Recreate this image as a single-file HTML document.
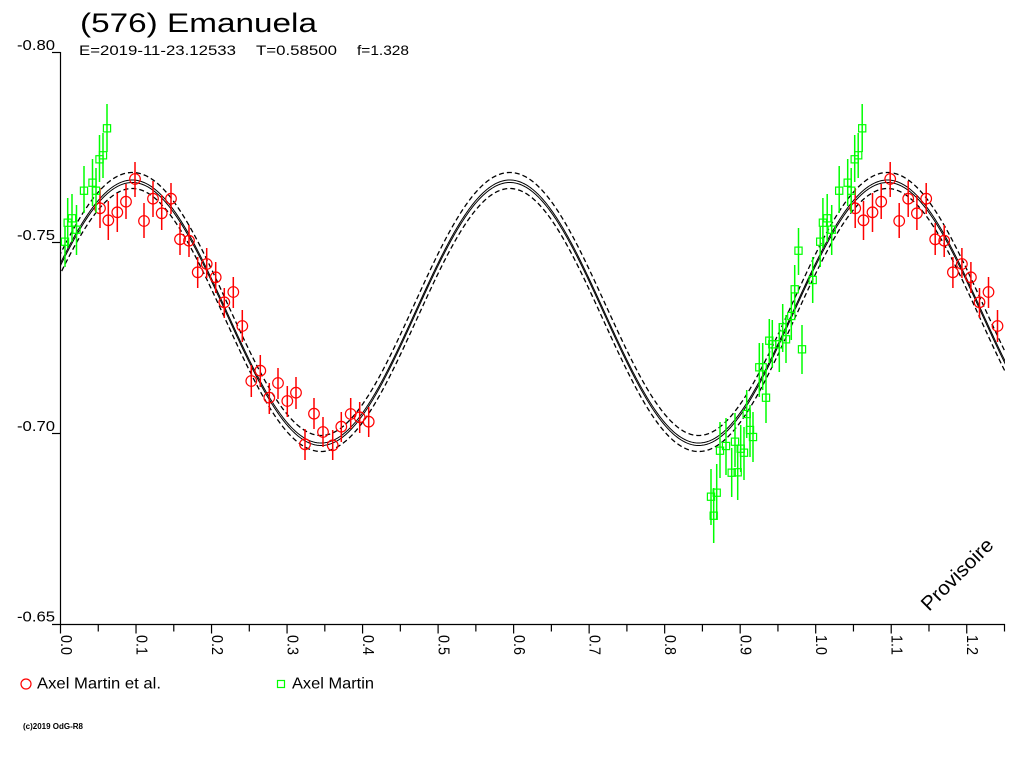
<!DOCTYPE html>
<html><head><meta charset="utf-8"><style>
html,body{margin:0;padding:0;background:#fff;}
svg{display:block;}
text{font-family:"Liberation Sans",Arial,sans-serif;fill:#000;}
</style></head><body>
<svg id="s" width="1024" height="768" viewBox="0 0 1024 768" xmlns="http://www.w3.org/2000/svg">
<rect width="1024" height="768" fill="#fff"/>
<defs><clipPath id="pc"><rect x="61" y="40" width="944" height="584"/></clipPath></defs>
<text x="80" y="32" font-size="27" textLength="237" lengthAdjust="spacingAndGlyphs">(576) Emanuela</text>
<text x="79" y="55" font-size="14" textLength="157" lengthAdjust="spacingAndGlyphs">E=2019-11-23.12533</text>
<text x="256" y="55" font-size="14" textLength="81" lengthAdjust="spacingAndGlyphs">T=0.58500</text>
<text x="357" y="55" font-size="14" textLength="52" lengthAdjust="spacingAndGlyphs">f=1.328</text>
<text x="17" y="50" font-size="15" textLength="38" lengthAdjust="spacingAndGlyphs">-0.80</text>
<text x="17" y="240" font-size="15" textLength="38" lengthAdjust="spacingAndGlyphs">-0.75</text>
<text x="17" y="431" font-size="15" textLength="38" lengthAdjust="spacingAndGlyphs">-0.70</text>
<text x="17" y="621.5" font-size="15" textLength="38" lengthAdjust="spacingAndGlyphs">-0.65</text>
<g id="axes" stroke="#000" stroke-width="1.2" fill="none">
<line x1="60.5" y1="52" x2="60.5" y2="624.5"/>
<line x1="52" y1="624.5" x2="1005" y2="624.5"/>
<line x1="52" y1="52.5" x2="60.5" y2="52.5"/>
<line x1="52" y1="242.5" x2="60.5" y2="242.5"/>
<line x1="52" y1="433.5" x2="60.5" y2="433.5"/>
</g>
<g id="xt"></g>
<g id="curves" clip-path="url(#pc)"></g>
<g id="data"></g>
<text transform="translate(929,612) rotate(-45)" font-size="20" textLength="93" lengthAdjust="spacingAndGlyphs">Provisoire</text>
<circle cx="26" cy="684" r="5" fill="none" stroke="#ff0000" stroke-width="1.2"/>
<text x="37" y="688.5" font-size="16" textLength="124" lengthAdjust="spacingAndGlyphs">Axel Martin et al.</text>
<rect x="277.5" y="680.5" width="7" height="7" fill="none" stroke="#00ff00" stroke-width="1.2"/>
<text x="292" y="688.5" font-size="16" textLength="82" lengthAdjust="spacingAndGlyphs">Axel Martin</text>
<text x="23" y="729" font-size="8" font-weight="bold" textLength="60" lengthAdjust="spacingAndGlyphs">(c)2019 OdG-R8</text>
</svg>
<script>
(function(){
var NS="http://www.w3.org/2000/svg";
function el(t,a,p){var e=document.createElementNS(NS,t);for(var k in a)e.setAttribute(k,a[k]);p.appendChild(e);return e;}
var X0=60.5,SX=755.2;
var xt=document.getElementById('xt');
for(var i=0;i<=25;i++){
  var x=X0+i*0.05*SX;
  var major=(i%2==0);
  el('line',{x1:x,y1:624,x2:x,y2:major?633.5:631.5,stroke:'#000','stroke-width':1.2},xt);
  if(major){
    var t=el('text',{transform:'translate('+(x+0.5)+',635) rotate(90)','font-size':16,textLength:20,lengthAdjust:'spacingAndGlyphs'},xt);
    t.textContent=(i/20).toFixed(1);
  }
}
function f(phi){return 311.5-131.5*Math.cos(4*Math.PI*(phi-0.095));}
function df(phi){return 131.5*4*Math.PI*Math.sin(4*Math.PI*(phi-0.095));}
var cg=document.getElementById('curves');
function curve(v,d,dash,w){
  var pts=[];
  for(var x=50;x<=1015;x+=1){
    var phi=(x-X0)/SX;
    var y=f(phi)+v;var m=df(phi)/SX;var n=Math.sqrt(1+m*m);
    pts.push((x-m*d/n).toFixed(2)+','+(y+d/n).toFixed(2));
  }
  var a={points:pts.join(' '),fill:'none',stroke:'#000','stroke-width':w};
  if(dash)a['stroke-dasharray']=dash;
  el('polyline',a,cg);
}
curve(-6,-1.5,'5 3',1.3);
curve(0,0,null,1);
curve(2.5,0,null,1);
curve(7,1.5,'5 3',1.3);
var dg=document.getElementById('data');
var red=[[100,208.3,188,228],[108.3,220.3,201,240],[117.3,212.3,193,232],[126,201.7,184,219],[135,179,162,197],[144,221,203,238],[153,198.7,181,217],[161.7,213.3,195,230],[171,198.7,183,214],[180,239.3,223,255],[189,240.7,225,257],[197.7,272.3,257,288],[206.7,264,248,278],[215.7,277.3,262,293],[224.3,302.3,288,318],[233.3,292,277,308],[242.3,326,310,342],[260.3,370.7,355,387],[251.3,381,365,397],[278,383,368,399],[269.3,397.7,383,414],[296,392.7,377,409],[287.3,401,386,417],[314,413.7,398,429],[305,444.3,429,460],[323,432,417,447],[332.7,445.3,430,460],[341.3,426.7,412,442],[350.7,414,398,429],[359.7,417.3,402,433],[368.7,421.7,407,437]];
var green=[[65,241.7,227,267],[67.7,222.7,198,248],[72,218.3,194,242],[76.5,229.7,205,255],[84,190.7,166,213],[92.5,182.7,159,206],[96,190.7,168,213],[99.5,159.3,135,182],[103,155.3,133,178],[107,128.3,104,152],
[711,496.7,469,525],[716.7,492.7,464,520],[713.7,515.7,488,543],[720,450.7,422,478],[726,446,418,475],[731.7,472.7,448,497],[735,441.7,413,467],[737.7,472.3,445,500],[740.7,448.7,425,472],[744,452.7,427,480],[746.7,414,390,438],[750,430,405,457],[753,437,412,462],[759.3,367.3,343,397],[762.7,367.3,343,390],[766,397.7,370,423],[769.3,340.7,319,363],[772.3,344.3,320,368],[779.3,344.3,323,372],[782.7,327.3,304,352],[786,339.3,315,363],[791.3,316,292,340],[794.7,289.3,265,313],[798.5,250.7,228,275],[802,349.3,325,374],[812.7,280,257,303]];
function drawRed(p,dx){
  var x=p[0]+dx;
  el('line',{x1:x,y1:p[2],x2:x,y2:p[3],stroke:'#ff0000','stroke-width':1.5},dg);
  el('circle',{cx:x,cy:p[1],r:5.3,fill:'none',stroke:'#ff0000','stroke-width':1.2},dg);
}
function drawGreen(p,dx){
  var x=p[0]+dx;
  el('line',{x1:x,y1:p[2],x2:x,y2:p[3],stroke:'#00ff00','stroke-width':1.5},dg);
  el('rect',{x:x-3.6,y:p[1]-3.6,width:7.2,height:7.2,fill:'none',stroke:'#00ff00','stroke-width':1.2},dg);
}
red.forEach(function(p){drawRed(p,0);if(p[0]+SX<1004)drawRed(p,SX);});
green.forEach(function(p){drawGreen(p,0);if(p[0]+SX<1004)drawGreen(p,SX);});
})();
</script>
</body></html>
